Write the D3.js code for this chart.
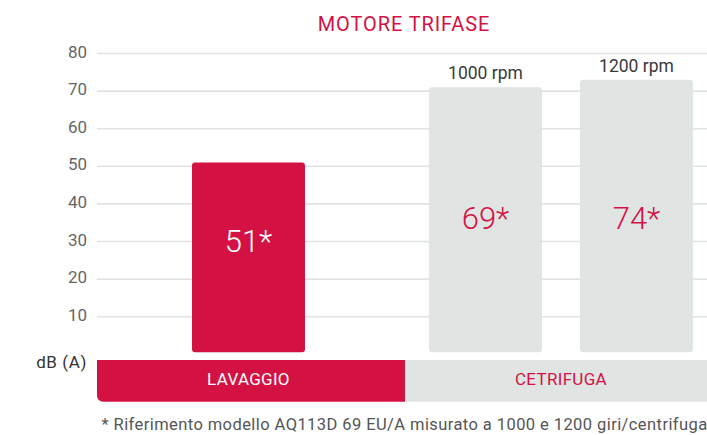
<!DOCTYPE html>
<html>
<head>
<meta charset="utf-8">
<script src="https://cdn.jsdelivr.net/npm/d3@7"></script>
<style>
  html, body { margin: 0; padding: 0; background: #ffffff; }
  svg { display: block; font-family: Roboto, "Liberation Sans", sans-serif; }
</style>
</head>
<body>
<svg id="chart" width="707" height="435"></svg>
<script>
// ---- data ----
const title = "MOTORE TRIFASE";
const groups = ["LAVAGGIO", "CETRIFUGA"];
const barKeys = ["lavaggio", "1000", "1200"];
const barGroup = ["LAVAGGIO", "CETRIFUGA", "CETRIFUGA"];
const barHeights = [51, 71, 73];            // bar heights as drawn in the picture
const barLabels = ["51*", "69*", "74*"];    // printed values
const barTopLabels = ["", "1000 rpm", "1200 rpm"];
const yTicks = [10, 20, 30, 40, 50, 60, 70, 80];
const yUnit = "dB (A)";
const footnote = "* Riferimento modello AQ113D 69 EU/A misurato a 1000 e 1200 giri/centrifuga";

// ---- style ----
const CRIMSON = "#d31243";
const GREY = "#e0e4e3";
const GRID = "#dfe3e2";

const svg = d3.select("#chart");
const W = 707;

// scales
const y = d3.scaleLinear().domain([0, 80]).range([354.3, 53.5]);
const xGroup = d3.scaleBand().domain(groups).range([97, 713]).paddingInner(0).paddingOuter(0);
const xInner = d3.scaleBand().domain(["1000", "1200"]).range([0, xGroup.bandwidth()])
  .paddingInner(0.2517).paddingOuter(0.146).align(0.545);
const bw = xInner.bandwidth();

function barX(i) {
  const g = barGroup[i];
  if (g === "LAVAGGIO") return xGroup(g) + xGroup.bandwidth() / 2 - bw / 2 - 2.5;
  return xGroup(g) + xInner(barKeys[i]);
}

// title
svg.append("text")
  .attr("x", 404).attr("y", 31)
  .attr("text-anchor", "middle")
  .attr("font-size", 20)
  .attr("letter-spacing", 0.9)
  .attr("fill", CRIMSON)
  .text(title);

// gridlines
svg.append("g").selectAll("line").data(yTicks).join("line")
  .attr("x1", 97).attr("x2", W)
  .attr("y1", d => y(d)).attr("y2", d => y(d))
  .attr("stroke", GRID).attr("stroke-width", 1.6);

// y tick labels
svg.append("g").selectAll("text").data(yTicks).join("text")
  .attr("x", 87).attr("y", d => y(d) + 4)
  .attr("text-anchor", "end")
  .attr("font-size", 17)
  .attr("fill", "#666")
  .text(d => d);

// bars
const bars = barHeights.map((v, i) => ({ v, i }));
svg.append("g").selectAll("rect").data(bars).join("rect")
  .attr("x", d => barX(d.i))
  .attr("width", bw)
  .attr("y", d => y(d.v))
  .attr("height", d => y(0) - 2 - y(d.v))
  .attr("rx", 3).attr("ry", 3)
  .attr("fill", d => d.i === 0 ? CRIMSON : GREY);

// value labels
const labelBaselines = [252, 229, 229];
svg.append("g").selectAll("text").data(bars).join("text")
  .attr("x", d => barX(d.i) + bw / 2)
  .attr("y", d => labelBaselines[d.i])
  .attr("text-anchor", "middle")
  .attr("font-size", 31)
  .attr("font-weight", 300)
  .attr("fill", d => d.i === 0 ? "#ffffff" : CRIMSON)
  .text(d => barLabels[d.i]);

// rpm labels above bars
svg.append("g").selectAll("text").data(bars.filter(d => barTopLabels[d.i])).join("text")
  .attr("x", d => barX(d.i) + bw / 2)
  .attr("y", d => y(d.v) - 8)
  .attr("text-anchor", "middle")
  .attr("font-size", 17.5)
  .attr("fill", "#3a3a3a")
  .text(d => barTopLabels[d.i]);

// bottom category band
const bandTop = 360, bandBot = 401.7, r = 6;
const x0 = xGroup("LAVAGGIO"), x1 = xGroup("CETRIFUGA");
svg.append("rect")
  .attr("x", x1).attr("y", bandTop)
  .attr("width", W - x1).attr("height", bandBot - bandTop)
  .attr("fill", GREY);
svg.append("path")
  .attr("d", `M${x0},${bandTop} H${x1} V${bandBot} H${x0 + r} A${r},${r} 0 0 1 ${x0},${bandBot - r} Z`)
  .attr("fill", CRIMSON);

svg.append("g").selectAll("text").data(groups).join("text")
  .attr("x", (d, i) => i === 0 ? barX(0) + bw / 2 : (barX(1) + barX(2) + bw) / 2)
  .attr("y", 385)
  .attr("text-anchor", "middle")
  .attr("font-size", 17)
  .attr("letter-spacing", 0.3)
  .attr("fill", (d, i) => i === 0 ? "#ffffff" : CRIMSON)
  .text(d => d);

// unit label
svg.append("text")
  .attr("x", 87).attr("y", 368)
  .attr("text-anchor", "end")
  .attr("font-size", 17)
  .attr("letter-spacing", 0.6)
  .attr("fill", "#333")
  .text(yUnit);

// footnote
svg.append("text")
  .attr("x", 101.5).attr("y", 430)
  .attr("font-size", 16.5)
  .attr("letter-spacing", 0.42)
  .attr("fill", "#555")
  .text(footnote);
</script>
</body>
</html>
